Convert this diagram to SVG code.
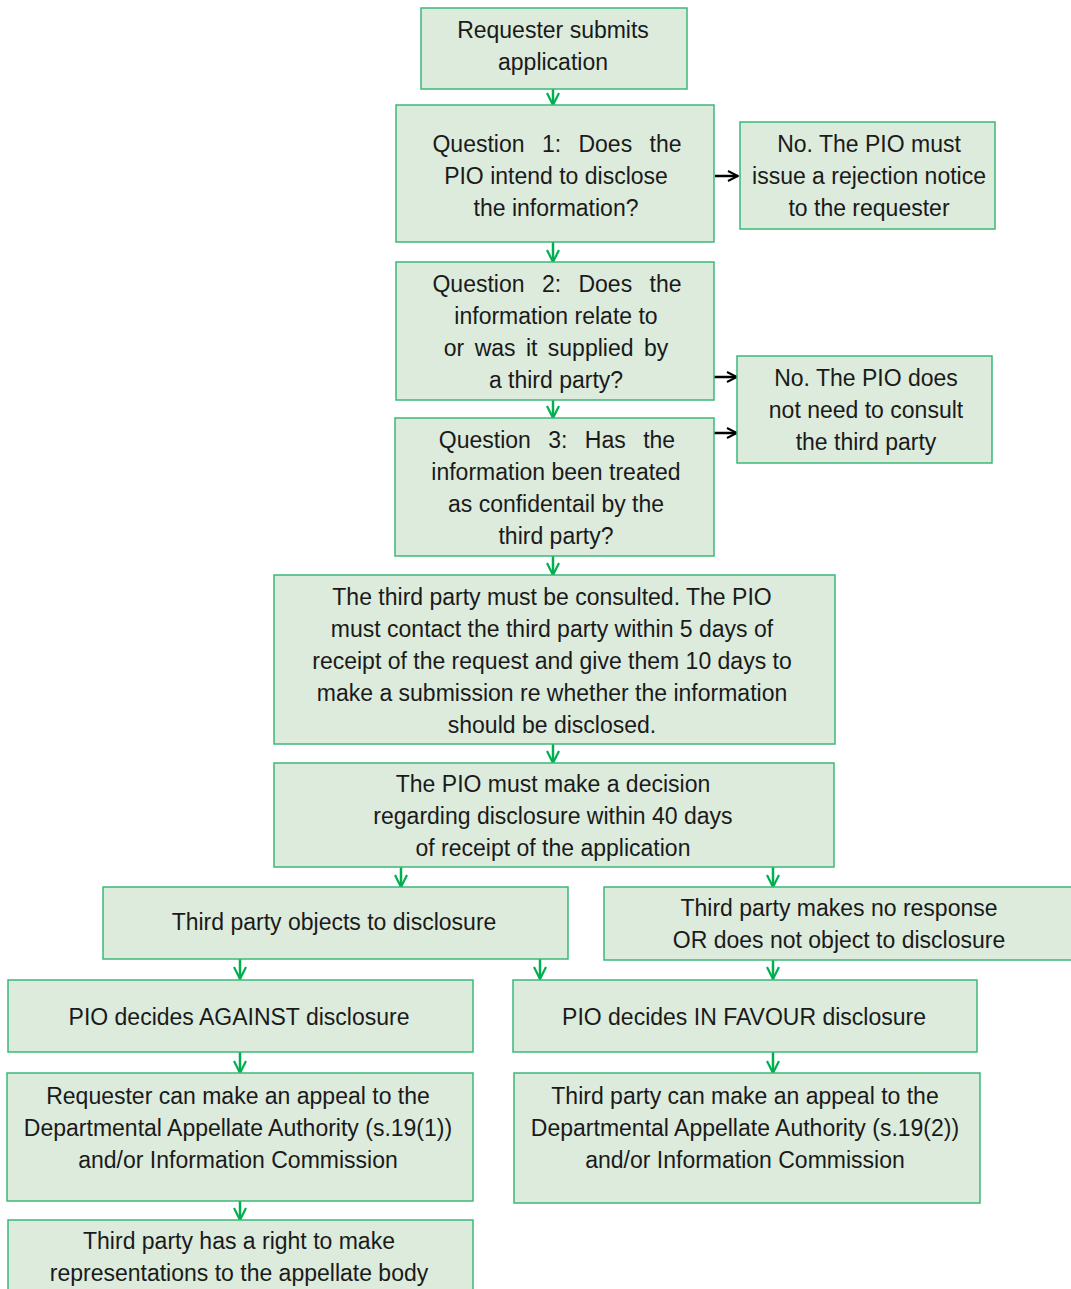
<svg xmlns="http://www.w3.org/2000/svg" width="1071" height="1289" viewBox="0 0 1071 1289">
<defs>
<style>
.box{fill:#dcebdc;stroke:#3cb878;stroke-width:1.5}
.t{font-family:"Liberation Sans",Arial,sans-serif;font-size:23px;fill:#1a1a1a;text-anchor:middle}
.q{word-spacing:11px}
.g{stroke:#00b050;stroke-width:2.5;fill:none}
.k{stroke:#000;stroke-width:2.5;fill:none}
</style>
<marker id="ag" viewBox="0 0 14 14" refX="13" refY="7" markerWidth="14" markerHeight="14" markerUnits="userSpaceOnUse" orient="auto"><path d="M1,1 L13,7 L1,13" fill="none" stroke="#00b050" stroke-width="2.2"/></marker>
<marker id="ak" viewBox="0 0 12 12" refX="11" refY="6" markerWidth="12" markerHeight="12" markerUnits="userSpaceOnUse" orient="auto"><path d="M1,1 L11,6 L1,11" fill="none" stroke="#000" stroke-width="2"/></marker>
</defs>
<rect width="1071" height="1289" fill="#fff"/>
<g id="connectors">
<line class="g" x1="553" y1="89" x2="553" y2="105" marker-end="url(#ag)"/>
<line class="g" x1="553" y1="242" x2="553" y2="262" marker-end="url(#ag)"/>
<line class="g" x1="553" y1="400" x2="553" y2="418" marker-end="url(#ag)"/>
<line class="g" x1="553" y1="556" x2="553" y2="575" marker-end="url(#ag)"/>
<line class="g" x1="553" y1="744" x2="553" y2="763" marker-end="url(#ag)"/>
<line class="g" x1="401" y1="867" x2="401" y2="887" marker-end="url(#ag)"/>
<line class="g" x1="773" y1="867" x2="773" y2="887" marker-end="url(#ag)"/>
<line class="g" x1="240" y1="959" x2="240" y2="979" marker-end="url(#ag)"/>
<line class="g" x1="540" y1="959" x2="540" y2="979" marker-end="url(#ag)"/>
<line class="g" x1="773" y1="960" x2="773" y2="979" marker-end="url(#ag)"/>
<line class="g" x1="240" y1="1052" x2="240" y2="1073" marker-end="url(#ag)"/>
<line class="g" x1="773" y1="1052" x2="773" y2="1073" marker-end="url(#ag)"/>
<line class="g" x1="240" y1="1201" x2="240" y2="1220" marker-end="url(#ag)"/>
<line class="k" x1="715" y1="176" x2="738" y2="176" marker-end="url(#ak)"/>
<line class="k" x1="714" y1="377" x2="737" y2="377" marker-end="url(#ak)"/>
<line class="k" x1="714" y1="433" x2="737" y2="433" marker-end="url(#ak)"/>
</g>
<g id="n1"><rect class="box" x="421" y="8" width="266" height="81"/>
<text class="t" x="553" y="38">Requester submits</text><text class="t" x="553" y="70">application</text></g>
<g id="n2"><rect class="box" x="396" y="105" width="318" height="137"/>
<text class="t q" x="557" y="152">Question 1: Does the</text><text class="t" x="556" y="184">PIO intend to disclose</text><text class="t" x="556" y="216">the information?</text></g>
<g id="n3"><rect class="box" x="740" y="122" width="255" height="107"/>
<text class="t" x="869" y="152">No. The PIO must</text><text class="t" x="869" y="184">issue a rejection notice</text><text class="t" x="869" y="216">to the requester</text></g>
<g id="n4"><rect class="box" x="396" y="262" width="318" height="138"/>
<text class="t q" x="557" y="292">Question 2: Does the</text><text class="t" x="556" y="324">information relate to</text><text class="t" x="556" y="356" word-spacing="4">or  was it supplied by</text><text class="t" x="556" y="388">a third party?</text></g>
<g id="n5"><rect class="box" x="395" y="418" width="319" height="138"/>
<text class="t q" x="557" y="448">Question 3: Has the</text><text class="t" x="556" y="480">information been treated</text><text class="t" x="556" y="512">as confidentail by the</text><text class="t" x="556" y="544">third party?</text></g>
<g id="n6"><rect class="box" x="737" y="356" width="255" height="107"/>
<text class="t" x="866" y="386">No. The PIO does</text><text class="t" x="866" y="418">not need to consult</text><text class="t" x="866" y="450">the third party</text></g>
<g id="n7"><rect class="box" x="274" y="575" width="561" height="169"/>
<text class="t" x="552" y="605">The third party must be consulted. The PIO</text><text class="t" x="552" y="637">must contact the third party within 5 days of</text><text class="t" x="552" y="669">receipt of the request and give them 10 days to</text><text class="t" x="552" y="701">make a submission re whether the information</text><text class="t" x="552" y="733">should be disclosed.</text></g>
<g id="n8"><rect class="box" x="274" y="763" width="560" height="104"/>
<text class="t" x="553" y="792">The PIO must make a decision</text><text class="t" x="553" y="824">regarding disclosure within 40 days</text><text class="t" x="553" y="856">of receipt of the application</text></g>
<g id="n9"><rect class="box" x="103" y="887" width="465" height="72"/>
<text class="t" x="334" y="930">Third party objects to disclosure</text></g>
<g id="n10"><rect class="box" x="604" y="887" width="470" height="73"/>
<text class="t" x="839" y="916">Third party makes no response</text><text class="t" x="839" y="948">OR does not object to disclosure</text></g>
<g id="n11"><rect class="box" x="8" y="980" width="465" height="72"/>
<text class="t" x="239" y="1025">PIO decides AGAINST disclosure</text></g>
<g id="n12"><rect class="box" x="513" y="980" width="464" height="72"/>
<text class="t" x="744" y="1025">PIO decides IN FAVOUR disclosure</text></g>
<g id="n13"><rect class="box" x="7" y="1073" width="466" height="128"/>
<text class="t" x="238" y="1104">Requester can make an appeal to the</text><text class="t" x="238" y="1136">Departmental Appellate Authority (s.19(1))</text><text class="t" x="238" y="1168">and/or Information Commission</text></g>
<g id="n14"><rect class="box" x="514" y="1073" width="466" height="130"/>
<text class="t" x="745" y="1104">Third party can make an appeal to the</text><text class="t" x="745" y="1136">Departmental Appellate Authority (s.19(2))</text><text class="t" x="745" y="1168">and/or Information Commission</text></g>
<g id="n15"><rect class="box" x="8" y="1220" width="465" height="80"/>
<text class="t" x="239" y="1249">Third party has a right to make</text><text class="t" x="239" y="1281">representations to the appellate body</text></g>
</svg>
